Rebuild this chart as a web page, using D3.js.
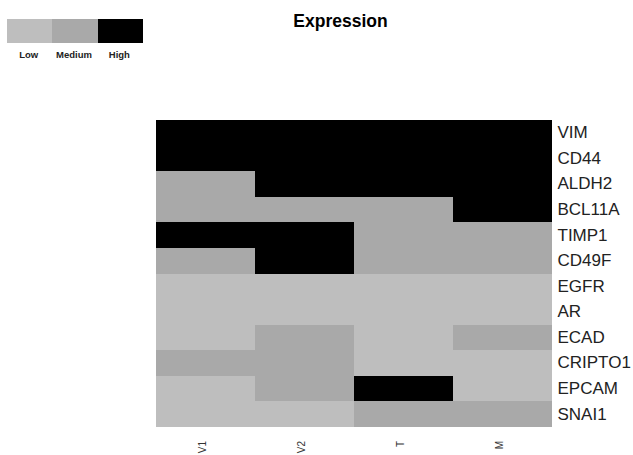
<!DOCTYPE html>
<html>
<head>
<meta charset="utf-8">
<script src="https://cdn.jsdelivr.net/npm/d3@7"></script>
<style>
  body { margin: 0; background: #fff; }
  svg { display: block; }
</style>
</head>
<body>
<div id="chart"></div>
<script>
// data
const samples = ["V1", "V2", "T", "M"];
const genes = ["VIM", "CD44", "ALDH2", "BCL11A", "TIMP1", "CD49F",
  "EGFR", "AR", "ECAD", "CRIPTO1", "EPCAM", "SNAI1"];
const levels = ["Low", "Medium", "High"];
// one row per gene, values in sample order (0 = Low, 1 = Medium, 2 = High)
const expression = [
  [2, 2, 2, 2],
  [2, 2, 2, 2],
  [1, 2, 2, 2],
  [1, 1, 1, 2],
  [2, 2, 1, 1],
  [1, 2, 1, 1],
  [0, 0, 0, 0],
  [0, 0, 0, 0],
  [0, 1, 0, 1],
  [1, 1, 0, 0],
  [0, 1, 2, 0],
  [0, 0, 1, 1]
];

const width = 633;
const height = 455;

const svg = d3.select("#chart")
  .append("svg")
  .attr("width", width)
  .attr("height", height);

const color = d3.scaleOrdinal()
  .domain([0, 1, 2])
  .range(["#bebebe", "#a9a9a9", "#000000"]);

const x = d3.scaleBand().domain(samples).range([155.5, 551.5]);
const y = d3.scaleBand().domain(genes).range([120, 427]);

// cells
const cells = [];
genes.forEach((g, i) => {
  samples.forEach((s, j) => {
    cells.push({ gene: g, sample: s, value: expression[i][j] });
  });
});

svg.append("g")
  .attr("shape-rendering", "crispEdges")
  .selectAll("rect")
  .data(cells)
  .join("rect")
  .attr("x", d => Math.round(x(d.sample)))
  .attr("y", d => Math.round(y(d.gene)))
  .attr("width", d => Math.round(x(d.sample) + x.bandwidth()) - Math.round(x(d.sample)))
  .attr("height", d => Math.round(y(d.gene) + y.bandwidth()) - Math.round(y(d.gene)))
  .attr("fill", d => color(d.value));

// row labels (right)
const yAxisG = svg.append("g")
  .attr("transform", "translate(551.5,0)")
  .call(d3.axisRight(y).tickSize(0).tickPadding(6));
yAxisG.select(".domain").remove();
yAxisG.selectAll("text")
  .attr("fill", "#222")
  .style("font-family", "'Liberation Sans', Arial, sans-serif")
  .style("font-size", "17px");

// column labels (bottom, rotated)
const xAxisG = svg.append("g")
  .attr("transform", "translate(0,427)")
  .call(d3.axisBottom(x).tickSize(0));
xAxisG.select(".domain").remove();
xAxisG.selectAll("text")
  .attr("transform", "translate(-3,14) rotate(-90)")
  .attr("x", 0)
  .attr("y", 0)
  .attr("dy", "0.35em")
  .attr("fill", "#333")
  .style("text-anchor", "end")
  .style("font-family", "'Liberation Sans', Arial, sans-serif")
  .style("font-size", "10px");

// title
svg.append("text")
  .attr("x", 340.5)
  .attr("y", 27)
  .attr("text-anchor", "middle")
  .attr("fill", "#000")
  .style("font-family", "'Liberation Sans', Arial, sans-serif")
  .style("font-weight", "bold")
  .style("font-size", "17.5px")
  .text("Expression");

// legend
const lx = d3.scaleBand().domain(levels).range([7, 143]);
const legend = svg.append("g");
legend.selectAll("rect")
  .data(levels)
  .join("rect")
  .attr("shape-rendering", "crispEdges")
  .attr("x", d => Math.round(lx(d)))
  .attr("y", 19)
  .attr("width", d => Math.round(lx(d) + lx.bandwidth()) - Math.round(lx(d)))
  .attr("height", 24)
  .attr("fill", (d, i) => color(i));
legend.selectAll("text")
  .data(levels)
  .join("text")
  .attr("x", d => lx(d) + lx.bandwidth() / 2 - 1)
  .attr("y", 58)
  .attr("text-anchor", "middle")
  .attr("fill", "#222")
  .style("font-family", "'Liberation Sans', Arial, sans-serif")
  .style("font-weight", "bold")
  .style("font-size", "9.5px")
  .text(d => d);
</script>
</body>
</html>
